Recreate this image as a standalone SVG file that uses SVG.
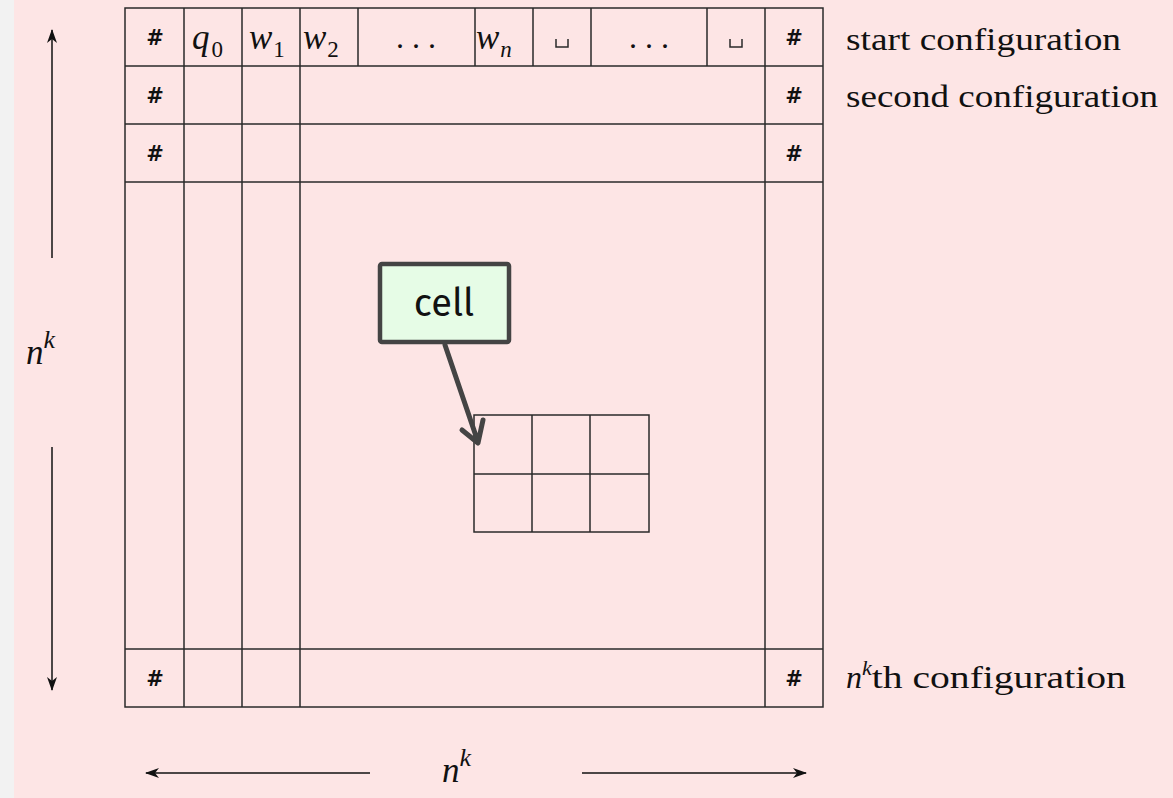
<svg xmlns="http://www.w3.org/2000/svg" width="1173" height="798" viewBox="0 0 1173 798">
<defs>
<style>
.g{stroke:#2a2a2a;stroke-width:1.5;fill:none}
.h{font-family:"DejaVu Sans","Liberation Sans",sans-serif;font-weight:bold;font-size:21px;fill:#111;text-anchor:middle}
.m{font-family:"Liberation Serif",serif;font-style:italic;font-size:35px;fill:#111}
.s{font-family:"Liberation Serif",serif;font-style:normal;font-size:23px;fill:#111}
.lbl{font-family:"Liberation Serif",serif;font-size:32px;fill:#111}
.ar{stroke:#111;stroke-width:1.5;fill:none}
</style>
<marker id="ah" viewBox="0 0 14 10" refX="13" refY="5" markerWidth="14" markerHeight="10" markerUnits="userSpaceOnUse" orient="auto">
<path d="M0,0 L14,5 L0,10 L4,5 Z" fill="#111"/>
</marker>
</defs>
<rect x="0" y="0" width="1173" height="798" fill="#fde5e5"/>
<rect x="0" y="0" width="14" height="798" fill="#f2f2f2"/>

<g id="table">
<rect class="g" x="125" y="8" width="698" height="699"/>
<path class="g" d="M125 66H823M125 124H823M125 182H823M125 649H823"/>
<path class="g" d="M184 8V707M242 8V707M300 8V707M765 8V707"/>
<path class="g" d="M358 8V66M475 8V66M533 8V66M591 8V66M707 8V66"/>
<text class="h" x="155" y="45">#</text>
<text class="h" x="155" y="103">#</text>
<text class="h" x="155" y="161">#</text>
<text class="h" x="155" y="686">#</text>
<text class="h" x="794" y="45">#</text>
<text class="h" x="794" y="103">#</text>
<text class="h" x="794" y="161">#</text>
<text class="h" x="794" y="686">#</text>
<text class="m" x="192" y="49">q<tspan class="s" dx="2" dy="8">0</tspan></text>
<text class="m" x="249" y="49">w<tspan class="s" dx="1" dy="8">1</tspan></text>
<text class="m" x="303" y="49">w<tspan class="s" dx="1" dy="8">2</tspan></text>
<text class="m" x="476" y="49">w<tspan class="s" style="font-style:italic" dx="1" dy="8">n</tspan></text>
<text class="lbl" x="416" y="48" text-anchor="middle">. . .</text>
<text class="lbl" x="649" y="48" text-anchor="middle">. . .</text>
<path class="g" d="M556 39V47H568V39M730 39V47H742V39" stroke-width="1.3"/>
</g>

<g id="cellgrid">
<rect class="g" x="474" y="415" width="175" height="117"/>
<path class="g" d="M474 474H649M532 415V532M590 415V532"/>
</g>

<g id="labels">
<text class="lbl" x="846" y="50" textLength="275" lengthAdjust="spacingAndGlyphs">start configuration</text>
<text class="lbl" x="846" y="107" textLength="312" lengthAdjust="spacingAndGlyphs">second configuration</text>
<text class="lbl" x="846" y="688"><tspan font-style="italic">n</tspan><tspan font-style="italic" font-size="22" dy="-13">k</tspan><tspan dy="13" textLength="254" lengthAdjust="spacingAndGlyphs">th configuration</tspan></text>
<text class="m" x="26" y="364" font-size="40">n<tspan font-size="26" dy="-16">k</tspan></text>
<text class="m" x="442" y="782" font-size="40">n<tspan font-size="26" dy="-16">k</tspan></text>
</g>

<g id="connectors">
<line class="ar" x1="52" y1="258" x2="52" y2="30" marker-end="url(#ah)"/>
<line class="ar" x1="52" y1="447" x2="52" y2="690" marker-end="url(#ah)"/>
<line class="ar" x1="370" y1="773" x2="146" y2="773" marker-end="url(#ah)"/>
<line class="ar" x1="582" y1="773" x2="806" y2="773" marker-end="url(#ah)"/>
<path d="M445 345L478 442M462 430L478 443L483 420" stroke="#444" stroke-width="5" fill="none" stroke-linecap="round" stroke-linejoin="round"/>
</g>

<g id="cell">
<rect x="380" y="264" width="129" height="78" fill="#e6fce6" stroke="#444" stroke-width="4.5" rx="2"/>
<text x="444" y="316" font-family="'Fira Sans','Open Sans','Noto Sans',sans-serif" font-size="38" fill="#111" text-anchor="middle">cell</text>
</g>
</svg>
